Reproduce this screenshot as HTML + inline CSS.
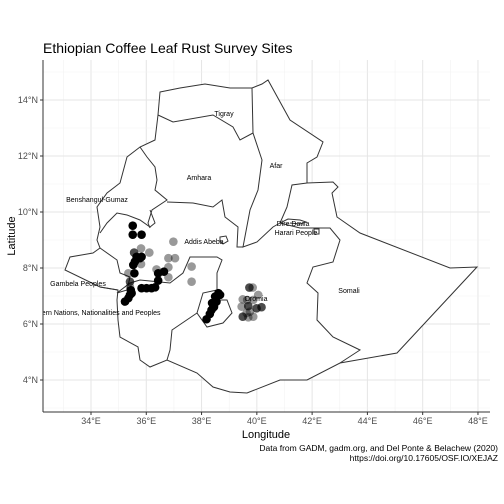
<!DOCTYPE html>
<html><head><meta charset="utf-8"><style>
body{margin:0;background:#fff}
svg{display:block;font-family:"Liberation Sans",sans-serif}
</style></head><body>
<svg id="chart" width="504" height="504" viewBox="0 0 504 504">
<rect width="504" height="504" fill="#fff"/>
<text x="43" y="53" font-size="14" fill="#000">Ethiopian Coffee Leaf Rust Survey Sites</text>
<g id="grid"></g>
<g id="map" fill="none" stroke="#333" stroke-width="1">
<path fill="#fff" d="M160,92 L180,88 L205,84 L230,88 L252,88 L262,84 L268,80 L290,120 L323,142 L317,157 L307,163 L307,183 L333,182 L338,187 L332,193 L337,217 L360,233 L450,268 L477,267 L397,353 L340,363 L307,380 L280,380 L247,393 L230,392 L213,387 L197,373 L167,360 L150,367 L140,360 L138,347 L120,337 L118,320 L117,300 L118,290 L100,287 L65,270 L70,257 L93,253 L100,248 L97,240 L100,227 L97,207 L107,193 L120,183 L127,157 L140,147 L155,140 L158,115 Z"/>
<path d="M158,115 L173,122 L213,115 L233,127 L240,140 L253,133 M252,88 L253,133"/>
<path d="M253,133 L262,160 L258,190 L250,210 L243,247 L257,242 L273,227 L280,223 M307,183 L292,185 L287,207 L280,223"/>
<path d="M280,223 L300,228 L330,228 L340,240 L333,262 L313,267 L307,283 L318,293 L317,320 L333,337 L360,350 L340,363"/>
<path d="M140,147 L147,157 L155,167 L157,180 L155,190 L167,200 L152,210 L148,223 L150,228 M167,202 L193,203 L213,207 L222,200 L225,217 L238,227 L237,247 L243,247"/>
<path d="M100,233 L107,223 L117,213 L127,215 L140,220 L150,227 L155,223 L150,210"/>
<path d="M100,248 L117,260 L120,273 L130,277 L127,290 L117,293 M100,287 L118,290"/>
<path d="M117,293 L130,283 L140,280 L170,283 L183,273 L190,257 L217,257 L222,260 L217,273 L217,290 L203,293 L197,313 L207,327 L223,323 L232,313 L227,300 L213,300 M197,313 L172,330 L170,350 L167,360"/>
<path d="M220,237 L226,236 L228,241 L223,244 L220,241 Z"/>
<path d="M314,229 L319,229 L319,234 L314,234 Z"/>
<path d="M280,223 L288,219 L300,220 L306,222 L300,224 L290,223"/>
</g>
<g id="points"></g>
<g font-size="7" fill="#000" text-anchor="middle">
<text x="224" y="116">Tigray</text>
<text x="276" y="168">Afar</text>
<text x="199" y="180">Amhara</text>
<text x="97" y="202">Benshangul-Gumaz</text>
<text x="204" y="244">Addis Abeba</text>
<text x="293" y="226">Dire Dawa</text>
<text x="296" y="235">Harari People</text>
<text x="78" y="286">Gambela Peoples</text>
<text x="256" y="301">Oromia</text>
<text x="349" y="293">Somali</text>
</g>
<svg x="43" y="60" width="447" height="352" overflow="hidden"><text x="49" y="255" font-size="7" text-anchor="middle">Southern Nations, Nationalities and Peoples</text></svg>
<line x1="43" y1="60" x2="43" y2="412" stroke="#333" stroke-width="1"/>
<line x1="43" y1="412" x2="490" y2="412" stroke="#333" stroke-width="1"/>
<g id="axes" font-size="9" fill="#4d4d4d"></g>
<text x="266" y="438" font-size="11" text-anchor="middle">Longitude</text>
<text x="0" y="0" transform="translate(15,236) rotate(-90)" font-size="11" text-anchor="middle">Latitude</text>
<text x="498" y="451" font-size="8.5" text-anchor="end">Data from GADM, gadm.org, and Del Ponte &amp; Belachew (2020)</text>
<text x="498" y="461" font-size="8.5" text-anchor="end">https://doi.org/10.17605/OSF.IO/XEJAZ</text>
</svg>
<script>
const xTicks=[34,36,38,40,42,44,46,48];
const yTicks=[4,6,8,10,12,14];
const ptLon=[35.51,35.51,35.83,35.65,35.83,35.59,35.53,35.77,35.57,36.43,36.64,36.43,35.83,36.01,36.19,36.32,35.44,35.41,35.35,35.23,35.47,38.61,38.49,38.67,38.42,38.36,38.30,38.18,38.54,38.45,38.38,35.56,35.41,39.73,39.69,40.17,39.99,39.49,36.98,35.81,36.11,36.80,37.04,35.81,37.64,37.64,36.37,36.80,36.80,35.35,35.41,39.85,39.49,40.05,39.65,39.87,39.45,39.75,39.69,39.87,39.63];
const ptLat=[9.51,9.19,9.19,8.40,8.40,8.23,8.11,8.35,7.81,7.81,7.87,7.55,7.28,7.28,7.28,7.31,7.21,7.04,6.92,6.80,7.10,7.10,6.98,7.04,6.68,6.50,6.36,6.17,6.80,6.61,6.75,8.55,7.51,7.30,6.64,6.60,6.56,6.26,8.94,8.70,8.55,8.35,8.35,8.14,8.05,7.51,7.95,8.03,7.67,7.81,7.33,7.30,6.88,7.04,6.86,6.86,6.62,6.44,6.24,6.26,6.39];
const ptShade=[1,1,1,1,1,1,1,1,1,1,1,1,1,1,1,1,1,1,1,1,1,1,1,1,1,1,1,1,1,1,1,0.7,0.7,0.7,0.7,0.7,0.7,0.7,0.4,0.4,0.4,0.4,0.4,0.4,0.4,0.4,0.4,0.4,0.4,0.4,0.4,0.4,0.4,0.4,0.4,0.4,0.4,0.4,0.4,0.4,0.4];
const NS='http://www.w3.org/2000/svg';
function sx(lon){return 91+(lon-34)*27.64;}
function sy(lat){return 268-(lat-8)*28;}
const grid=document.getElementById('grid'),axes=document.getElementById('axes'),pts=document.getElementById('points');
for(let v=33;v<=48.5;v+=1){
  const l=document.createElementNS(NS,'line');
  
  
  l.setAttribute('x1',sx(v));l.setAttribute('x2',sx(v));l.setAttribute('y1',60);l.setAttribute('y2',412);
  l.setAttribute('stroke',v%2===0?'#e5e5e5':'#f2f2f2');l.setAttribute('stroke-width',v%2===0?1:0.6);
  grid.appendChild(l);
}
for(let v=3;v<=15;v+=1){
  const l=document.createElementNS(NS,'line');
  
  
  l.setAttribute('x1',43);l.setAttribute('x2',490);l.setAttribute('y1',sy(v));l.setAttribute('y2',sy(v));
  l.setAttribute('stroke',v%2===0?'#e5e5e5':'#f2f2f2');l.setAttribute('stroke-width',v%2===0?1:0.6);
  grid.appendChild(l);
}
xTicks.forEach(v=>{
  const t=document.createElementNS(NS,'text');
  
  
  t.setAttribute('x',sx(v));t.setAttribute('y',424);t.setAttribute('text-anchor','middle');
  t.textContent=v+'°E';axes.appendChild(t);
  const k=document.createElementNS(NS,'line');
  
  
  k.setAttribute('x1',sx(v));k.setAttribute('x2',sx(v));k.setAttribute('y1',412);k.setAttribute('y2',415);k.setAttribute('stroke','#333');
  axes.appendChild(k);
});
yTicks.forEach(v=>{
  const t=document.createElementNS(NS,'text');
  
  
  t.setAttribute('x',38);t.setAttribute('y',sy(v)+3);t.setAttribute('text-anchor','end');
  t.textContent=v+'°N';axes.appendChild(t);
  const k=document.createElementNS(NS,'line');
  
  
  k.setAttribute('x1',40);k.setAttribute('x2',43);k.setAttribute('y1',sy(v));k.setAttribute('y2',sy(v));k.setAttribute('stroke','#333');
  axes.appendChild(k);
});
ptLon.forEach((lon,i)=>{
  const c=document.createElementNS(NS,'circle');
  
  
  c.setAttribute('cx',sx(lon));c.setAttribute('cy',sy(ptLat[i]));c.setAttribute('r',4.3);
  c.setAttribute('fill','#000');c.setAttribute('fill-opacity',ptShade[i]);
  pts.appendChild(c);
});
</script>
</body></html>
